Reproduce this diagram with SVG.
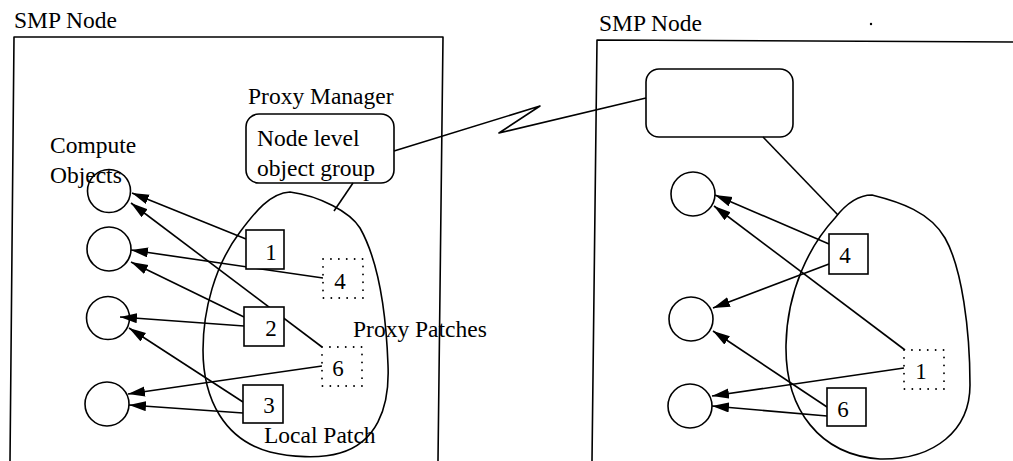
<svg xmlns="http://www.w3.org/2000/svg" width="1013" height="461" viewBox="0 0 1013 461">
<style>
  .ln{fill:none;stroke:#000;stroke-width:1.6;stroke-linejoin:round}
  .shape{fill:#fff;stroke:#000;stroke-width:1.6}
  .dot{fill:#fff;stroke:#000;stroke-width:1.8;stroke-dasharray:0.1 7.8;stroke-linecap:round}
  .t{font-family:"Liberation Serif","Times New Roman",serif;font-size:23.5px;fill:#000}
  .d{font-family:"Liberation Serif","Times New Roman",serif;font-size:23px;fill:#000;text-anchor:middle}
  .arr{fill:none;stroke:#000;stroke-width:1.6;marker-end:url(#ah)}
</style>
<defs>
  <marker id="ah" markerUnits="userSpaceOnUse" markerWidth="18" markerHeight="11" refX="17" refY="5" orient="auto">
    <path d="M0,0 L17,5 L0,10 Z" fill="#000"/>
  </marker>
</defs>
<rect width="1013" height="461" fill="#fff"/>

<!-- left SMP node -->
<g id="smp-left">
  <polyline class="ln" points="10,461 14,37 443,37 438,461"/>
  <text class="t" x="14" y="28">SMP Node</text>
</g>
<!-- right SMP node -->
<g id="smp-right">
  <polyline class="ln" points="592,461 597,40 1013,42"/>
  <text class="t" x="599" y="31">SMP Node</text>
  <circle cx="871" cy="24" r="1.2" fill="#000"/>
</g>

<!-- blobs -->
<g id="local-patch-left">
  <path class="ln" d="M290,192 C270,193 255,212 240,232 C215,265 203,310 203,350 C203,400 225,440 270,452 C290,457 320,459 340,453 C375,443 390,410 388,365 C386,310 378,260 360,228 C350,212 320,196 290,192 Z"/>
  <text class="t" x="264" y="443">Local Patch</text>
  <text class="t" x="353" y="337">Proxy Patches</text>
</g>
<g id="local-patch-right">
  <path class="ln" d="M872,195 C858,195 845,205 835,218 C810,245 787,290 786,345 C785,410 820,455 880,459 C935,460 970,430 970,385 C970,330 962,268 945,238 C930,212 900,202 872,195 Z"/>
</g>

<!-- proxy managers -->
<g id="proxy-manager-left">
  <text class="t" x="248" y="104">Proxy Manager</text>
  <rect class="shape" x="246" y="114" width="148" height="69" rx="13"/>
  <text class="t" x="257" y="146">Node level</text>
  <text class="t" x="257" y="176">object group</text>
</g>
<g id="proxy-manager-right">
  <rect class="shape" x="646" y="69" width="147" height="68" rx="13"/>
</g>

<!-- connectors -->
<g id="connectors">
  <polyline class="ln" points="394,151 540,106 499,133 646,98"/>
  <line class="ln" x1="353" y1="183" x2="334" y2="211"/>
  <line class="ln" x1="763" y1="137" x2="838" y2="215"/>
  <!-- left -->
  <line class="arr" x1="246" y1="239" x2="132" y2="193"/>
  <line class="arr" x1="322" y1="347" x2="131" y2="203"/>
  <line class="arr" x1="323" y1="278" x2="131" y2="250"/>
  <line class="arr" x1="244" y1="317" x2="131" y2="262"/>
  <line class="arr" x1="244" y1="326" x2="120" y2="317"/>
  <line class="arr" x1="243" y1="402" x2="129" y2="328"/>
  <line class="arr" x1="322" y1="366" x2="128" y2="394"/>
  <line class="arr" x1="243" y1="413" x2="129" y2="405"/>
  <!-- right -->
  <line class="arr" x1="829" y1="244" x2="715" y2="195"/>
  <line class="arr" x1="905" y1="350" x2="714" y2="206"/>
  <line class="arr" x1="829" y1="264" x2="713" y2="308"/>
  <line class="arr" x1="827" y1="407" x2="713" y2="331"/>
  <line class="arr" x1="904" y1="368" x2="712" y2="396"/>
  <line class="arr" x1="827" y1="416" x2="712" y2="406"/>
</g>

<!-- compute objects -->
<g id="compute-objects-left">
  <text class="t" x="50" y="153">Compute</text>
  <circle class="ln" cx="109" cy="191" r="21.5"/>
  <text class="t" x="50" y="183">Objects</text>
  <circle class="ln" cx="109" cy="249" r="22"/>
  <circle class="ln" cx="108" cy="318" r="21.5"/>
  <circle class="ln" cx="107" cy="404" r="22"/>
</g>
<g id="compute-objects-right">
  <circle class="ln" cx="693" cy="194" r="22"/>
  <circle class="ln" cx="691" cy="319" r="22"/>
  <circle class="ln" cx="690" cy="406" r="22"/>
</g>

<!-- patches left -->
<g id="patch-1-left"><rect class="shape" x="246" y="230" width="38" height="39"/><text class="d" x="271" y="260">1</text></g>
<g id="patch-2-left"><rect class="shape" x="244" y="307" width="40" height="39"/><text class="d" x="271" y="336">2</text></g>
<g id="patch-3-left"><rect class="shape" x="243" y="385" width="40" height="38"/><text class="d" x="269" y="413">3</text></g>
<g id="proxy-4-left"><rect class="dot" x="323" y="259" width="40" height="39"/><text class="d" x="340" y="289">4</text></g>
<g id="proxy-6-left"><rect class="dot" x="322" y="347" width="40" height="39"/><text class="d" x="338" y="376">6</text></g>

<!-- patches right -->
<g id="patch-4-right"><rect class="shape" x="829" y="234" width="39" height="40"/><text class="d" x="845" y="263">4</text></g>
<g id="patch-6-right"><rect class="shape" x="827" y="388" width="39" height="38"/><text class="d" x="843" y="417">6</text></g>
<g id="proxy-1-right"><rect class="dot" x="904" y="350" width="40" height="39"/><text class="d" x="921" y="379">1</text></g>
</svg>
